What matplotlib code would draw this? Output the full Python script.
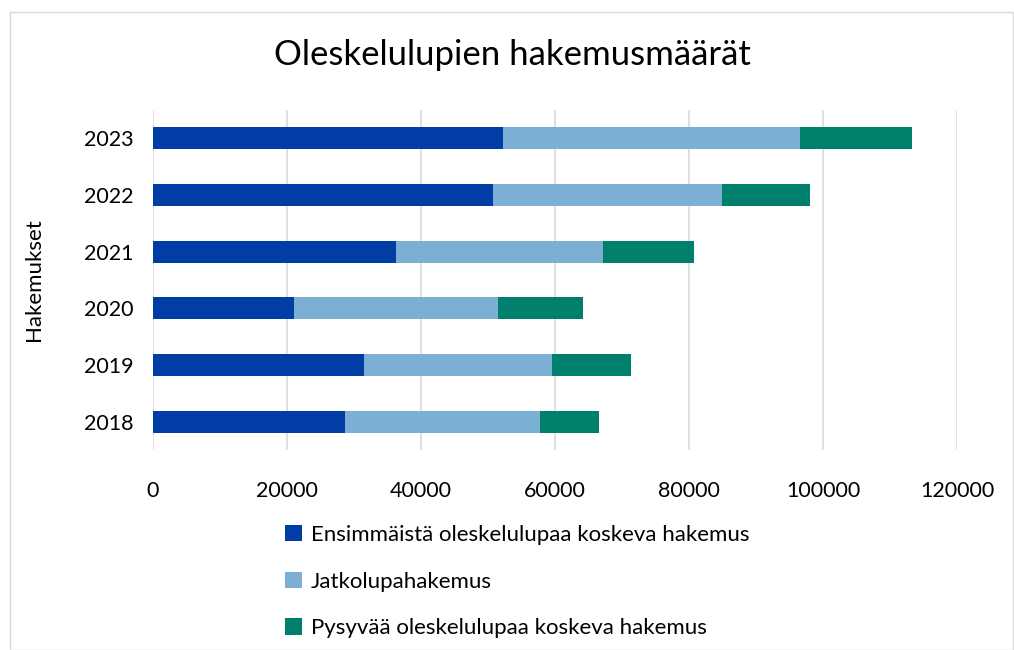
import matplotlib.pyplot as plt
import numpy as np
from matplotlib.patches import Rectangle

years = ['2018', '2019', '2020', '2021', '2022', '2023']
ensimmainen = [28600, 31450, 21100, 36200, 50700, 52300]
jatko = [29200, 28150, 30350, 31000, 34200, 44200]
pysyva = [8700, 11750, 12800, 13600, 13200, 16800]

labels = ['Ensimmäistä oleskelulupaa koskeva hakemus',
          'Jatkolupahakemus',
          'Pysyvää oleskelulupaa koskeva hakemus']
colors = ['#003DA5', '#7BAFD4', '#00806C']

plt.rcParams['font.family'] = ['Lato', 'DejaVu Sans']

fig = plt.figure(figsize=(10.14, 6.5), dpi=100)
fig.patches.append(Rectangle((10 / 1014, 0), 1 - 10 / 1014 - 0.001, 1 - 12 / 650,
                             transform=fig.transFigure, fill=False,
                             edgecolor='#d9d9d9', linewidth=1))

ax = fig.add_axes([153 / 1014, 1 - 450 / 650, (957 - 153) / 1014, 340 / 650])

y = np.arange(len(years))
left = np.zeros(len(years))
for vals, lab, col in zip([ensimmainen, jatko, pysyva], labels, colors):
    ax.barh(y, vals, left=left, height=0.39, color=col, label=lab, zorder=3)
    left = left + np.array(vals)

ax.set_xlim(0, 120000)
ax.set_ylim(-0.5, len(years) - 0.5)
ax.set_xticks(np.arange(0, 120001, 20000))
ax.set_yticks(y)
ax.set_yticklabels(years)
ax.grid(axis='x', color='#d9d9d9', linewidth=1.2, zorder=0)
for s in ax.spines.values():
    s.set_visible(False)
ax.tick_params(length=0, labelsize=15.5, colors='#000000')
ax.tick_params(axis='x', pad=22)
ax.tick_params(axis='y', pad=14)

ax.set_ylabel('Hakemukset', fontsize=16)
ax.yaxis.set_label_coords(-(153 - 44) / (957 - 153), 0.5)
fig.text(0.505, 1 - 55 / 650, 'Oleskelulupien hakemusmäärät', fontsize=25,
         ha='center', va='center')

fig.legend(loc='upper left', bbox_to_anchor=(265 / 1014, 1 - 505 / 650),
           frameon=False, fontsize=16, ncol=1, handlelength=0.75, handleheight=0.75,
           handletextpad=0.4, labelspacing=1.2)

plt.savefig('out.png', dpi=100)
